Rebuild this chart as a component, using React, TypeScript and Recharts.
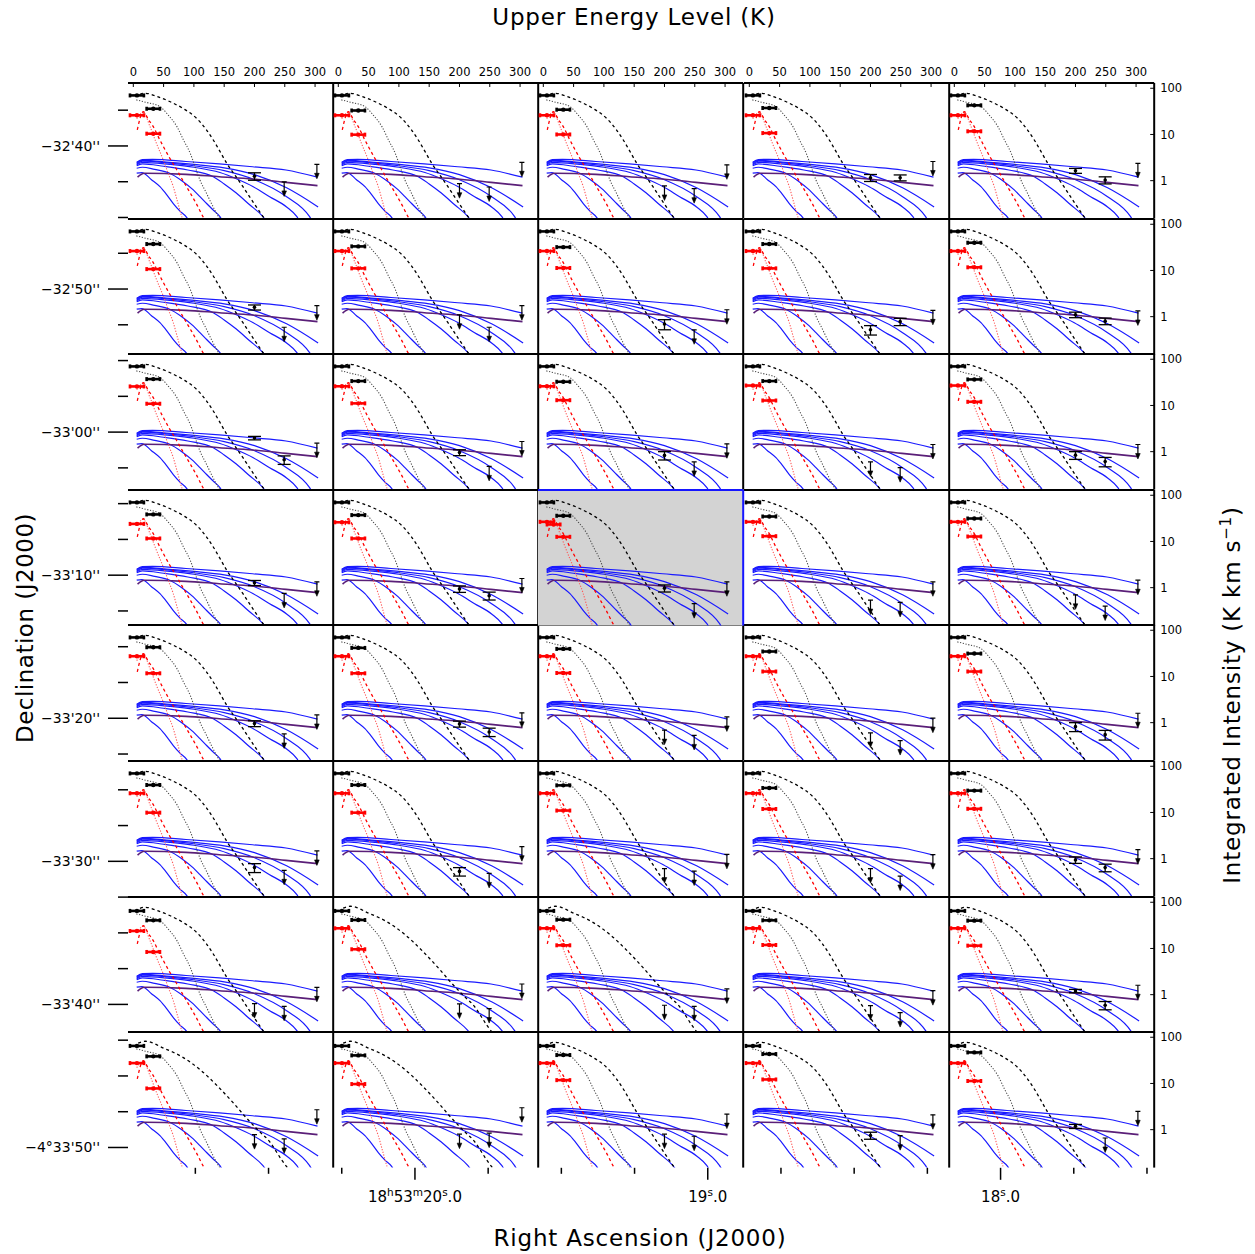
import React from 'react';
import { ComposedChart, Line, Scatter, XAxis, YAxis, ErrorBar, CartesianGrid } from 'recharts';

const FONT = "'DejaVu Sans', 'Liberation Sans', sans-serif";

// ---------------- axis definitions ----------------
const energyTicks = [0, 50, 100, 150, 200, 250, 300];
const intensityTicks = [1, 10, 100];
const energyDomain: [number, number] = [-8.75, 329.9];
const intensityDomain: [number, number] = [0.151, 130];

const raTicks = [17.5, 17.75, 18, 18.25, 18.5, 18.75, 19, 19.25, 19.5, 19.75, 20, 20.25, 20.5, 20.75];
const raDomain: [number, number] = [17.476, 20.98];
// label pieces: [text, superscript?]
const raLabels: Record<string, [string, boolean][]> = {
  '20': [['18', false], ['h', true], ['53', false], ['m', true], ['20', false], ['s', true], ['.0', false]],
  '19': [['19', false], ['s', true], ['.0', false]],
  '18': [['18', false], ['s', true], ['.0', false]],
};
const decMajor = [-1960, -1970, -1980, -1990, -2000, -2010, -2020, -2030];
const decLabels = ["\u221232'40''", "\u221232'50''", "\u221233'00''", "\u221233'10''", "\u221233'20''", "\u221233'30''", "\u221233'40''", "\u22124\u00b033'50''"];
const decTicks: number[] = [];
for (let v = -1957.5; v >= -2030; v -= 2.5) decTicks.push(v);
const decDomain: [number, number] = [-2031.42, -1955.6];

// ---------------- model curves [E_up (K), intensity] ----------------
const blackDashed = [[11, 74], [19, 78], [40, 66], [61, 51], [83, 36], [105, 22], [120, 13], [132, 7.6], [143, 4.3], [154, 2.4], [168, 1.3], [181, 0.74], [198, 0.34], [215, 0.16], [222, 0.12]];
const blackDashedTail = [[8, 75], [20, 82], [50, 58], [80, 38], [110, 20], [140, 8.5], [165, 3.8], [185, 1.9], [205, 1.0], [225, 0.55], [245, 0.22], [258, 0.13]];
const grayDotted = [[5, 56], [20, 50], [44, 40], [58, 26], [72, 14.8], [83, 7.5], [94, 3.9], [102, 2.0], [110, 1.03], [120, 0.56], [129, 0.32], [137, 0.2], [146, 0.13]];
const redDashed = [[6.6, 12.6], [16.5, 31], [25, 21], [33, 14.8], [41, 9], [49.5, 5.5], [60, 3.1], [72, 1.7], [83, 0.95], [94, 0.54], [105, 0.3], [115, 0.166], [120, 0.13]];
const pinkDotted = [[5.6, 22], [16.5, 30], [27.6, 14.8], [38, 6.5], [49.5, 2.8], [58, 1.4], [66, 0.74], [73, 0.35], [80, 0.166], [83, 0.13]];
const blue1 = [[5.6, 2.5], [15, 2.85], [32, 2.9], [87, 2.6], [142, 2.3], [197, 2.0], [252, 1.7], [304, 1.19]];
const blue2 = [[5.6, 2.45], [15, 2.75], [60, 2.5], [100, 2.25], [150, 1.9], [200, 1.35], [253, 0.7], [305, 0.27]];
const blue3 = [[5.6, 2.3], [15, 2.65], [60, 2.4], [100, 2.1], [150, 1.65], [200, 1.05], [253, 0.45], [291, 0.166], [296, 0.13]];
const blue4 = [[5.6, 2.2], [15, 2.5], [60, 2.25], [100, 1.95], [143, 1.5], [170, 1.1], [198, 0.74], [225, 0.45], [253, 0.27], [270, 0.166], [275, 0.13]];
const blue5 = [[5.6, 2.1], [15, 2.3], [50, 2.05], [90, 1.7], [132, 1.22], [150, 0.85], [170, 0.54], [192, 0.3], [214, 0.166], [220, 0.13]];
const blue6 = [[5.6, 1.86], [15, 1.95], [35, 1.75], [60, 1.45], [80, 1.0], [99, 0.63], [110, 0.45], [121, 0.32], [132, 0.23], [143, 0.166], [148, 0.13]];
const blue7 = [[5.6, 1.45], [14, 1.5], [30, 1.05], [44, 0.74], [55, 0.5], [66, 0.32], [77, 0.22], [88, 0.16], [92, 0.13]];
const purpleModel = [[7, 1.19], [18, 1.45], [87, 1.37], [142, 1.22], [197, 1.09], [252, 0.92], [304, 0.78]];
// panels (row, col) whose black dashed model has the extended tail
const tailPanels = [[6, 1], [6, 2], [7, 0], [7, 1]];

// ---------------- observed points ----------------
const lowEnergies = [6, 33];
const lowHalfWidths = [11.5, 11];
const black1Values = [
  70, 70, 70, 70, 70,
  70, 70, 70, 70, 70,
  70, 70, 70, 70, 70,
  70, 70, 70, 70, 70,
  70, 70, 70, 70, 70,
  70, 70, 70, 70, 70,
  65, 65, 65, 65, 65,
  65, 65, 65, 65, 65,
];
const black2Values = [
  36, 33, 34.4, 37.4, 42.7,
  37.3, 33.2, 32, 37.3, 39.8,
  37.2, 33.7, 32.6, 33.7, 36.6,
  38.5, 37.2, 36, 34.7, 31.4,
  42.9, 41.5, 39.5, 34.7, 31.3,
  39.3, 39.3, 38.6, 33.9, 29.7,
  40.6, 41.3, 42, 40.6, 40,
  38.6, 40.5, 41.2, 43.3, 47,
];
const red1Values = [
  26, 26, 26, 26, 26,
  26.3, 26.3, 26.3, 26.3, 26.3,
  25.8, 26, 26, 27, 27,
  24, 26, 26.6, 26.6, 26.6,
  27.4, 27.4, 27.4, 27.4, 27.4,
  26, 26, 26, 26, 26,
  23.9, 27.3, 27.3, 27.3, 27.3,
  27.6, 27.6, 27.6, 27.6, 27.6,
];
const red2Values = [
  10.4, 9.9, 10, 10.7, 11.7,
  10.7, 11.1, 11.3, 11.1, 11.7,
  10.9, 11.1, 13, 12.8, 12,
  11.6, 11.6, 12.6, 13, 12.8,
  11.7, 11.7, 11.9, 12.8, 12.8,
  9.9, 9.9, 11, 11.9, 12,
  8.4, 9.6, 11.7, 11.9, 11.5,
  7.8, 9.7, 11.8, 12.2, 11.3,
];
// extra red point of the highlighted panel: [E, value]
const extraRedPoint = [17, 23.3];

const hiEnergies = [200, 249, 303];
// value (for upper limits: the limit) at each high energy, per panel (row-major)
const hiValues = [
  [1.25, 0.94, 2.26], [0.86, 0.73, 2.5], [0.77, 0.67, 2.2], [1.16, 1.16, 2.6], [1.64, 1.03, 2.37],
  [1.59, 0.59, 1.73], [1.1, 0.59, 1.73], [0.69, 0.52, 1.41], [0.52, 0.78, 1.37], [1.1, 0.8, 1.33],
  [1.97, 0.67, 1.53], [0.96, 0.48, 1.66], [0.83, 0.6, 1.48], [0.6, 0.45, 1.43], [0.84, 0.61, 1.43],
  [1.27, 0.75, 1.34], [0.94, 0.67, 1.58], [0.975, 0.45, 1.34], [0.54, 0.48, 1.34], [0.7, 0.4, 1.45],
  [0.96, 0.57, 1.47], [0.94, 0.63, 1.63], [0.69, 0.53, 1.33], [0.6, 0.41, 1.25], [0.82, 0.55, 1.6],
  [0.64, 0.56, 1.47], [0.53, 0.48, 1.82], [0.61, 0.54, 1.24], [0.61, 0.42, 1.22], [0.94, 0.64, 1.57],
  [0.64, 0.56, 1.44], [0.63, 0.5, 1.7], [0.59, 0.56, 1.33], [0.58, 0.41, 1.22], [1.2, 0.59, 1.6],
  [0.78, 0.63, 2.7], [0.8, 0.84, 2.98], [0.8, 0.72, 2.17], [0.75, 0.74, 2.1], [1.18, 0.66, 2.5],
];
// 1-sigma error; 0 marks an upper limit
const hiErrors = [
  [0.23, 0, 0], [0, 0, 0], [0, 0, 0], [0.2, 0.17, 0], [0.2, 0.18, 0],
  [0.2, 0, 0], [0, 0, 0], [0.17, 0, 0], [0.12, 0.14, 0], [0.15, 0.13, 0],
  [0.17, 0.14, 0], [0.14, 0, 0], [0.17, 0, 0], [0, 0, 0], [0.16, 0.14, 0],
  [0.16, 0, 0], [0.15, 0.13, 0], [0.17, 0, 0], [0, 0, 0], [0, 0, 0],
  [0.14, 0, 0], [0.14, 0.13, 0], [0, 0, 0], [0, 0, 0], [0.18, 0.13, 0],
  [0.14, 0, 0], [0.11, 0, 0], [0, 0, 0], [0, 0, 0], [0.15, 0.12, 0],
  [0, 0, 0], [0, 0, 0], [0, 0, 0], [0, 0, 0], [0.1, 0.12, 0],
  [0, 0, 0], [0, 0, 0], [0, 0, 0], [0.13, 0, 0], [0.12, 0, 0],
];

const ROWS = 8;
const COLS = 5;
const highlightPanel = [3, 2];

// ---------------- layout ----------------
const PW = 205.2;
const PH = 135.6;
const GX = 128;
const GY = 83;
const TOPH = 24;
const RIGHTW = 36;
const PAD = 6;

const toPts = (arr: number[][]) => arr.map(([e, v]) => ({ e, v }));
const blueModels = [blue1, blue2, blue3, blue4, blue5, blue6, blue7].map(toPts);
const purplePts = toPts(purpleModel);
const dashedPts = toPts(blackDashed);
const dashedTailPts = toPts(blackDashedTail);
const grayPts = toPts(grayDotted);
const redDashedPts = toPts(redDashed);
const pinkPts = toPts(pinkDotted);

function UpperLimit(props: any) {
  const { cx, cy } = props;
  if (cx == null || cy == null || isNaN(cx) || isNaN(cy)) return <g />;
  return (
    <g>
      <line x1={cx - 2.5} y1={cy} x2={cx + 2.5} y2={cy} stroke="#000" strokeWidth={1.2} />
      <line x1={cx} y1={cy} x2={cx} y2={cy + 12} stroke="#000" strokeWidth={1.2} />
      <path d={`M${cx - 2.3},${cy + 9} L${cx},${cy + 14.5} L${cx + 2.3},${cy + 9} Z`} fill="#000" stroke="#000" strokeWidth={0.6} />
    </g>
  );
}

const makeDot = (color: string, r: number) => (props: any) => {
  const { cx, cy } = props;
  if (cx == null || cy == null || isNaN(cx) || isNaN(cy)) return <g />;
  return <circle cx={cx} cy={cy} r={r} fill={color} />;
};
const blackDot = makeDot('#000', 2.2);
const redDot = makeDot('#ff0000', 2.2);
const smallDot = makeDot('#000', 1.8);

function Panel({ r, c }: { r: number; c: number }) {
  const i = r * COLS + c;
  const hi = r === highlightPanel[0] && c === highlightPanel[1];
  const edge = hi ? '#1515ff' : '#000';
  const axisLine = { stroke: edge, strokeWidth: 2 };
  const tickLine = { stroke: '#000', strokeWidth: 1 };
  const labelStyle = { fontSize: 11.5, fill: '#000', fontFamily: FONT };
  const isTail = tailPanels.some(([a, b]) => a === r && b === c);

  const detections: { e: number; v: number; err: number }[] = [];
  const limits: { e: number; v: number }[] = [];
  hiEnergies.forEach((e, k) => {
    const v = hiValues[i][k];
    const err = hiErrors[i][k];
    if (err > 0) detections.push({ e, v, err });
    else limits.push({ e, v });
  });
  const blackLow = [
    { e: lowEnergies[0], v: black1Values[i], xe: lowHalfWidths[0] },
    { e: lowEnergies[1], v: black2Values[i], xe: lowHalfWidths[1] },
  ];
  const redLow = [
    { e: lowEnergies[0], v: red1Values[i], xe: lowHalfWidths[0] },
    { e: lowEnergies[1], v: red2Values[i], xe: lowHalfWidths[1] },
  ];
  if (hi) redLow.push({ e: extraRedPoint[0], v: extraRedPoint[1], xe: lowHalfWidths[1] });

  const common = { xAxisId: 'b', yAxisId: 'l', isAnimationActive: false } as const;

  return (
    <div style={{ position: 'absolute', left: GX + c * PW - PAD, top: GY + r * PH - TOPH }}>
      <ComposedChart
        width={PAD + PW + RIGHTW}
        height={TOPH + PH + PAD}
        margin={{ top: 0, right: 0, bottom: PAD, left: PAD }}
      >
        <XAxis
          xAxisId="t"
          orientation="top"
          type="number"
          dataKey="e"
          domain={energyDomain}
          allowDataOverflow
          ticks={energyTicks}
          interval={0}
          height={TOPH}
          tickSize={-4}
          tickMargin={11}
          axisLine={axisLine}
          tickLine={tickLine}
          tick={r === 0 ? labelStyle : false}
        />
        <XAxis
          xAxisId="b"
          orientation="bottom"
          type="number"
          dataKey="e"
          domain={energyDomain}
          allowDataOverflow
          ticks={energyTicks}
          interval={0}
          height={0}
          tickSize={-4}
          axisLine={axisLine}
          tickLine={tickLine}
          tick={false}
        />
        <YAxis
          yAxisId="l"
          orientation="left"
          type="number"
          scale="log"
          dataKey="v"
          domain={intensityDomain}
          allowDataOverflow
          ticks={intensityTicks}
          interval={0}
          width={0}
          tickSize={-4}
          axisLine={axisLine}
          tickLine={tickLine}
          tick={false}
        />
        <YAxis
          yAxisId="r"
          orientation="right"
          type="number"
          scale="log"
          dataKey="v"
          domain={intensityDomain}
          allowDataOverflow
          ticks={intensityTicks}
          interval={0}
          width={RIGHTW}
          tickSize={-4}
          tickMargin={10}
          axisLine={axisLine}
          tickLine={tickLine}
          tick={c === COLS - 1 ? labelStyle : false}
        />
        {hi && (
          <CartesianGrid xAxisId="b" yAxisId="l" fill="#d3d3d3" fillOpacity={1} horizontal={false} vertical={false} />
        )}
        {blueModels.map((m, k) => (
          <Line key={'blue' + k} {...common} data={m} dataKey="v" type="monotone" stroke="#1a1aff" strokeWidth={1.2} dot={false} />
        ))}
        <Line {...common} data={purplePts} dataKey="v" type="monotone" stroke="#5a1f78" strokeWidth={1.6} dot={false} />
        <Line {...common} data={grayPts} dataKey="v" type="monotone" stroke="#4a4a4a" strokeWidth={1.1} strokeDasharray="1.2 1.6" dot={false} />
        <Line {...common} data={isTail ? dashedTailPts : dashedPts} dataKey="v" type="monotone" stroke="#000" strokeWidth={1.3} strokeDasharray="3 3" dot={false} />
        <Line {...common} data={pinkPts} dataKey="v" type="monotone" stroke="#ff5a5a" strokeWidth={1.1} strokeDasharray="1.2 1.6" dot={false} />
        <Line {...common} data={redDashedPts} dataKey="v" type="monotone" stroke="#ff0000" strokeWidth={1.3} strokeDasharray="3 3" dot={false} />
        <Scatter {...common} data={blackLow} shape={blackDot}>
          <ErrorBar dataKey="xe" direction="x" width={2} stroke="#000" strokeWidth={2.6} />
        </Scatter>
        <Scatter {...common} data={redLow} shape={redDot}>
          <ErrorBar dataKey="xe" direction="x" width={2} stroke="#ff0000" strokeWidth={2.6} />
        </Scatter>
        <Scatter {...common} data={detections} shape={smallDot}>
          <ErrorBar dataKey="err" direction="y" width={6.5} stroke="#000" strokeWidth={1.3} />
        </Scatter>
        <Scatter {...common} data={limits} shape={UpperLimit} />
      </ComposedChart>
    </div>
  );
}

function RaTick(props: any) {
  const { x, y, payload } = props;
  const v = payload.value;
  const major = Math.abs(v - Math.round(v)) < 1e-6;
  const pieces = major ? raLabels[String(Math.round(v))] : null;
  return (
    <g>
      <line x1={x} y1={y} x2={x} y2={y + (major ? 12 : 6)} stroke="#000" strokeWidth={1.5} />
      {pieces && (
        <text x={x} y={y + 34} textAnchor="middle" fontSize={15} fontFamily={FONT} fill="#000">
          {pieces.map(([t, sup], k) => {
            const prevSup = k > 0 && pieces[k - 1][1];
            const dy = sup ? -6 : prevSup ? 6 : 0;
            return (
              <tspan key={k} dy={dy} fontSize={sup ? 10.5 : 15}>
                {t}
              </tspan>
            );
          })}
        </text>
      )}
    </g>
  );
}

function DecTick(props: any) {
  const { x, y, payload } = props;
  const v = payload.value;
  const idx = decMajor.findIndex((m) => Math.abs(m - v) < 1e-6);
  const major = idx >= 0;
  return (
    <g>
      <line x1={x - (major ? 20 : 10)} y1={y} x2={x} y2={y} stroke="#000" strokeWidth={1.5} />
      {major && (
        <text x={x - 28} y={y + 5} textAnchor="end" fontSize={14} fontFamily={FONT} fill="#000">
          {decLabels[idx]}
        </text>
      )}
    </g>
  );
}

function SkyAxes() {
  const right = 1255 - (GX + COLS * PW);
  const bottom = 1254 - (GY + ROWS * PH);
  return (
    <div style={{ position: 'absolute', left: 0, top: 0 }}>
      <ComposedChart width={1255} height={1254} margin={{ top: GY, right, bottom: 0, left: 0 }}>
        <XAxis
          xAxisId="ra"
          type="number"
          dataKey="ra"
          domain={raDomain}
          reversed
          allowDataOverflow
          ticks={raTicks}
          interval={0}
          height={bottom}
          tickSize={0}
          tickMargin={0}
          axisLine={false}
          tickLine={false}
          tick={(p: any) => <RaTick {...p} />}
        />
        <YAxis
          yAxisId="dec"
          type="number"
          dataKey="dec"
          domain={decDomain}
          allowDataOverflow
          ticks={decTicks}
          interval={0}
          width={GX}
          tickSize={0}
          tickMargin={0}
          axisLine={false}
          tickLine={false}
          tick={(p: any) => <DecTick {...p} />}
        />
        <Scatter xAxisId="ra" yAxisId="dec" data={[{ ra: 19, dec: -2000 }]} shape={() => <g />} isAnimationActive={false} />
      </ComposedChart>
    </div>
  );
}

function Titles() {
  return (
    <svg width={1255} height={1254} style={{ position: 'absolute', left: 0, top: 0 }}>
      <text x={634} y={25} textAnchor="middle" fontSize={23} fontFamily={FONT} fill="#000" letterSpacing={0.8}>
        Upper Energy Level (K)
      </text>
      <text x={640} y={1246} textAnchor="middle" fontSize={23} fontFamily={FONT} fill="#000" letterSpacing={0.8}>
        Right Ascension (J2000)
      </text>
      <text transform="translate(33,628) rotate(-90)" textAnchor="middle" fontSize={23} fontFamily={FONT} fill="#000" letterSpacing={0.5}>
        Declination (J2000)
      </text>
      <text transform="translate(1240,695) rotate(-90)" textAnchor="middle" fontSize={23} fontFamily={FONT} fill="#000" letterSpacing={0.8}>
        Integrated Intensity (K km s<tspan dy={-9} fontSize={15}>{'\u22121'}</tspan>
        <tspan dy={9}>)</tspan>
      </text>
    </svg>
  );
}

export default function App() {
  const cells: { r: number; c: number }[] = [];
  for (let r = 0; r < ROWS; r++) for (let c = 0; c < COLS; c++) cells.push({ r, c });
  const ordered = [
    ...cells.filter(({ r, c }) => !(r === highlightPanel[0] && c === highlightPanel[1])),
    { r: highlightPanel[0], c: highlightPanel[1] },
  ];
  return (
    <div style={{ position: 'absolute', left: 0, top: 0, width: 1255, height: 1254, background: '#fff' }}>
      <Titles />
      <SkyAxes />
      {ordered.map(({ r, c }) => (
        <Panel key={`${r}-${c}`} r={r} c={c} />
      ))}
    </div>
  );
}
